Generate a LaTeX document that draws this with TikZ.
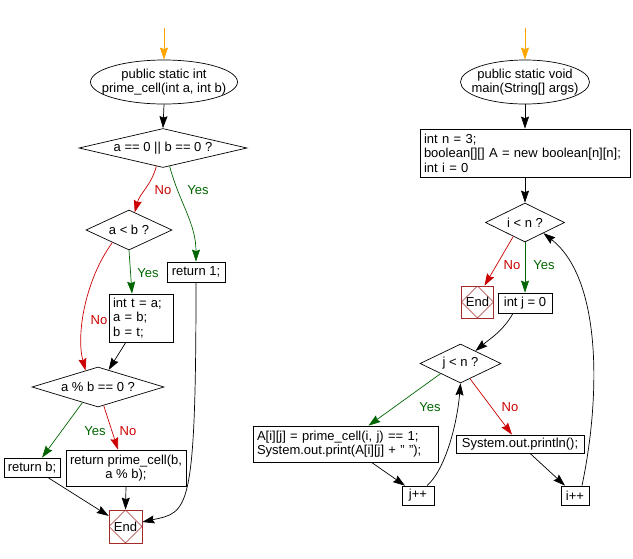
\documentclass[tikz,border=0pt]{standalone}
\usepackage{fontspec}
\setmainfont{Liberation Sans}
\usepackage{tikz}
\usetikzlibrary{shapes.geometric,arrows.meta}

\begin{document}
\begin{tikzpicture}[x=1pt,y=1pt,yscale=-1,xscale=1,
  every node/.style={font=\fontsize{13}{14.5}\selectfont},
  startstop/.style={ellipse, draw, line width=0.7pt, inner xsep=-14pt, inner ysep=0pt, minimum height=44pt, align=center},
  decision/.style={diamond, draw, line width=0.7pt, inner sep=0pt},
  process/.style={rectangle, draw, line width=0.7pt, inner sep=2pt},
  block/.style={rectangle, draw, line width=0.7pt, inner xsep=4pt, inner ysep=1pt, align=left},
  stopbox/.style={rectangle, draw={rgb, 255:red, 165; green, 42; blue, 42 }, line width=0.7pt, minimum size=#1, inner sep=0pt,
    path picture={\draw [color={rgb, 255:red, 165; green, 42; blue, 42 }, line width=0.5pt] (path picture bounding box.north) -- (path picture bounding box.east) -- (path picture bounding box.south) -- (path picture bounding box.west) -- cycle ;}},
  arr/.style={line width=0.7pt, -{Stealth[length=12pt,width=8pt,inset=1.5pt]}},
  arrO/.style={arr, color={rgb, 255:red, 255; green, 165; blue, 0 }},
  arrY/.style={arr, color={rgb, 255:red, 0; green, 100; blue, 0 }},
  arrN/.style={arr, color={rgb, 255:red, 204; green, 0; blue, 0 }},
  lblY/.style={text={rgb, 255:red, 0; green, 100; blue, 0 }, inner sep=0.75pt},
  lblN/.style={text={rgb, 255:red, 204; green, 0; blue, 0 }, inner sep=0.75pt}
]
\useasboundingbox (0,0) rectangle (633,558);

%%% prime_cell
\coordinate (startL) at (164,28);
%Shape: Ellipse
\node [startstop, minimum width=147pt] (fnL) at (164,82) {public static int\\prime\_cell(int a, int b)};
%Shape: Diamond
\node [decision, shape aspect=4.3, minimum width=168pt, minimum height=39pt] (dia1) at (163,148) {a == 0 || b == 0 ?};
%Shape: Diamond
\node [decision, shape aspect=2.15, minimum width=86pt, minimum height=40pt] (dia2) at (129,230) {a < b ?};
%Shape: Rectangle
\node [process, minimum width=58pt, minimum height=20pt] (ret1) at (196,272) {return 1;};
%Shape: Rectangle
\node [block, text width=56pt, minimum height=48pt] (swap) at (141,318) {int t = a;\\a = b;\\b = t;};
%Shape: Diamond
\node [decision, shape aspect=3.3, minimum width=132pt, minimum height=40pt] (dia3) at (98,387) {a \% b == 0 ?};
%Shape: Rectangle
\node [process, minimum width=56pt, minimum height=19pt] (retb) at (32,467.5) {return b;};
%Shape: Rectangle
\node [process, align=center, minimum width=120pt, minimum height=36pt] (recur) at (126,468) {return prime\_cell(b,\\a \% b);};
%Shape: End
\node [stopbox=33pt] (endL) at (125.5,526.5) {End};

%Straight Lines
\draw [arrO] (startL) -- (fnL.north) ;
\draw [arr] (fnL.south) -- (dia1.north) ;
\draw [arrY] (dia2.south) -- ([xshift=-9pt]swap.north) ;
\draw [arr] (swap) -- (dia3) ;
\draw [arrY] (dia3.225) -- ([xshift=10pt]retb.north) ;
\draw [arrN] (dia3.-73) -- ([xshift=-8pt]recur.north) ;
\draw [arr] (retb) -- (endL) ;
\draw [arr] (recur.south) -- (endL.north) ;
%Curve Lines
\draw [arrN] (dia1.-110) to[out=105,in=-75] (dia2.72) ;
\draw [arrY] (dia1.-70) to[out=75,in=-90] (ret1.north) ;
\draw [arrN] (dia2.217) .. controls (85,280) and (76,335) .. (dia3.127) ;
\draw [arr] (ret1.south) .. controls (196,515) and (188,512) .. (endL.15) ;

% Text Node
\node [lblN] (no1) at (163,190) {No};
% Text Node
\node [lblY] (yes1) at (198,190) {Yes};
% Text Node
\node [lblY] (yes2) at (148,273) {Yes};
% Text Node
\node [lblN] (no2) at (99,320) {No};
% Text Node
\node [lblY] (yes3) at (95,431) {Yes};
% Text Node
\node [lblN] (no3) at (128,431) {No};

%%% main
\coordinate (startR) at (525,28);
%Shape: Ellipse
\node [startstop, minimum width=129pt] (fnR) at (525,82) {public static void\\main(String[] args)};
%Shape: Rectangle
\node [block, text width=202pt, minimum height=48pt] (init) at (525,153) {int n = 3;\\boolean[][] A = new boolean[n][n];\\int i = 0};
%Shape: Diamond
\node [decision, shape aspect=2, minimum width=79pt, minimum height=39pt] (dia4) at (525,222.5) {i < n ?};
%Shape: End
\node [stopbox=32pt] (endR) at (477.5,302) {End};
%Shape: Rectangle
\node [process, minimum width=54pt, minimum height=20pt] (intj) at (525,303) {int j = 0};
%Shape: Diamond
\node [decision, shape aspect=2, minimum width=81pt, minimum height=39pt] (dia5) at (460.5,363.5) {j < n ?};
%Shape: Rectangle
\node [block, text width=177pt, minimum height=36pt] (assign) at (345.5,444) {A[i][j] = prime\_cell(i, j) == 1;\\System.out.print(A[i][j] + " ");};
%Shape: Rectangle
\node [process, minimum width=128pt, minimum height=18pt] (println) at (520,444) {System.out.println();};
%Shape: Rectangle
\node [process, minimum width=32pt, minimum height=19pt] (jinc) at (418,495.5) {j++};
%Shape: Rectangle
\node [process, minimum width=28pt, minimum height=19pt] (iinc) at (575,495.5) {i++};

%Straight Lines
\draw [arrO] (startR) -- (fnR.north) ;
\draw [arr] (fnR.south) -- (init.north) ;
\draw [arr] (init.south) -- (dia4.north) ;
\draw [arrN] (dia4.230) -- ([xshift=7pt]endR.north) ;
\draw [arrY] (dia4.south) -- (intj.north) ;
\draw [arrY] (dia5.207) -- ([xshift=23pt]assign.north) ;
\draw [arrN] (dia5.-58) -- ([xshift=-8pt]println.north) ;
\draw [arr] ([xshift=26pt]assign.south) -- ([xshift=-13pt]jinc.north) ;
\draw [arr] ([xshift=10pt]println.south) -- ([xshift=-10pt]iinc.north) ;
%Curve Lines
\draw [arr] ([xshift=-12pt]intj.south) to[out=120,in=-40] (dia5.40) ;
\draw [arr] ([xshift=9pt]jinc.north) .. controls (445,470) and (457,425) .. (dia5.south) ;
\draw [arr] ([xshift=7pt]iinc.north) .. controls (600,400) and (603,280) .. (dia4.-30) ;

% Text Node
\node [lblN] (no4) at (512,265) {No};
% Text Node
\node [lblY] (yes4) at (544,265) {Yes};
% Text Node
\node [lblY] (yes5) at (430,407) {Yes};
% Text Node
\node [lblN] (no5) at (510,407) {No};

\end{tikzpicture}
\end{document}
